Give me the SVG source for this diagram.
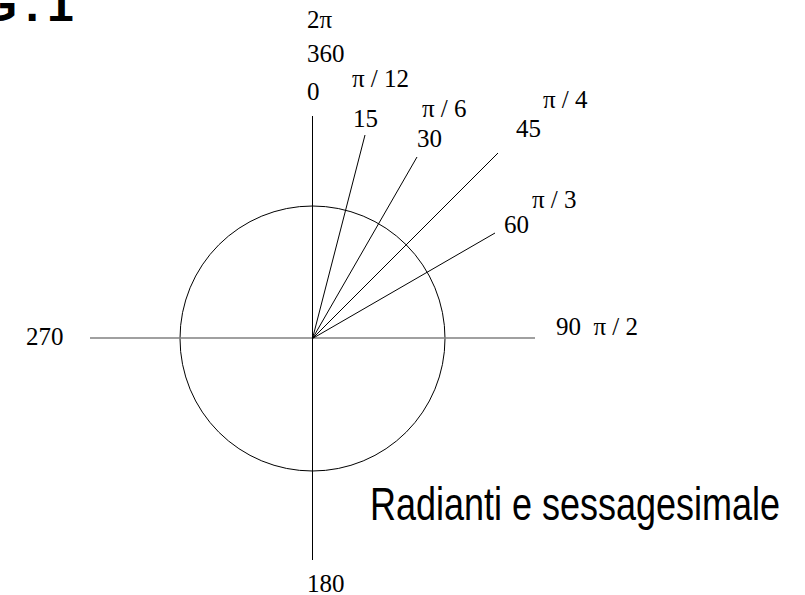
<svg xmlns="http://www.w3.org/2000/svg" width="805" height="595" viewBox="0 0 805 595">
<style>
.lbl{font-family:"Liberation Serif","Times New Roman",serif;font-size:25px;fill:#000}
.ray{stroke:#000;stroke-width:1;fill:none}
</style>
<rect width="805" height="595" fill="#fff"/>
<g id="title-fig">
<text x="-20" y="21" font-family="'Liberation Sans',Arial,sans-serif" font-weight="bold" font-size="48" letter-spacing="8.2" fill="#000">G.1</text>
</g>
<g id="circle-node">
<circle cx="312.5" cy="338.5" r="132.5" fill="none" stroke="#000" stroke-width="1"/>
</g>
<g id="connectors">
<line x1="90" y1="338" x2="535" y2="338" stroke="#808080" stroke-width="1.5"/>
<line x1="312.5" y1="116" x2="312.5" y2="560" class="ray"/>
<line x1="312.5" y1="338.5" x2="365" y2="135" class="ray"/>
<line x1="312.5" y1="338.5" x2="417" y2="157" class="ray"/>
<line x1="312.5" y1="338.5" x2="498" y2="153" class="ray"/>
<line x1="312.5" y1="338.5" x2="495" y2="233" class="ray"/>
</g>
<g id="labels">
<text class="lbl" x="307" y="28">2π</text>
<text class="lbl" x="307" y="62">360</text>
<text class="lbl" x="307" y="100">0</text>
<text class="lbl" x="352" y="87">π / 12</text>
<text class="lbl" x="353" y="127">15</text>
<text class="lbl" x="422" y="117">π / 6</text>
<text class="lbl" x="417" y="147">30</text>
<text class="lbl" x="543" y="108">π / 4</text>
<text class="lbl" x="516" y="137">45</text>
<text class="lbl" x="532" y="208">π / 3</text>
<text class="lbl" x="504" y="233">60</text>
<text class="lbl" x="556" y="335" xml:space="preserve">90  π / 2</text>
<text class="lbl" x="26" y="345">270</text>
<text class="lbl" x="307" y="592">180</text>
</g>
<g id="caption">
<text x="370" y="520" font-family="'Liberation Sans',Arial,sans-serif" font-size="46" textLength="410" lengthAdjust="spacingAndGlyphs" fill="#000">Radianti e sessagesimale</text>
</g>
</svg>
